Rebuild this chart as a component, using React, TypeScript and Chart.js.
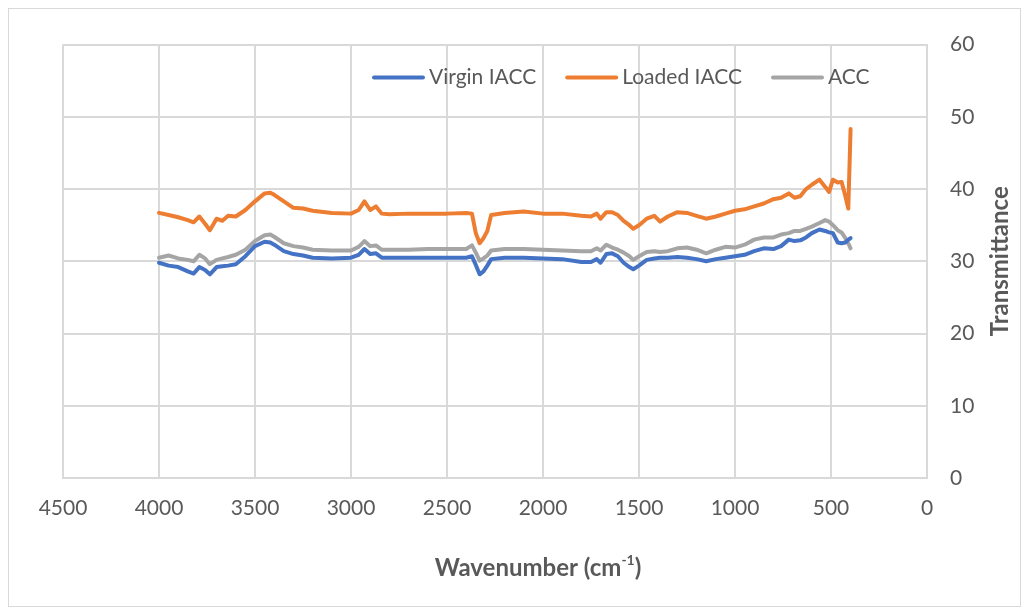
import { useEffect, useRef } from "react";
import { Chart, registerables } from "chart.js";

Chart.register(...registerables);

// FTIR spectra: wavenumber (cm-1) against transmittance
const wavenumbers = [
  4000, 3950, 3900, 3850, 3820, 3790, 3760, 3735, 3700, 3670, 3640, 3600, 3550, 3500,
  3450, 3420, 3400, 3350, 3300, 3250, 3200, 3100, 3000, 2960, 2930, 2900, 2870, 2840,
  2800, 2700, 2600, 2500, 2400, 2370, 2350, 2330, 2310, 2290, 2270, 2200, 2100, 2000,
  1900, 1800, 1750, 1720, 1700, 1670, 1640, 1610, 1580, 1550, 1530, 1500, 1460, 1420,
  1390, 1350, 1300, 1250, 1200, 1150, 1100, 1050, 1000, 950, 900, 850, 800, 760,
  720, 690, 660, 630, 600, 560, 530, 510, 490, 465, 445, 425, 410, 398,
];

const virginIACC = [
  29.8, 29.4, 29.2, 28.6, 28.3, 29.2, 28.8, 28.2, 29.2, 29.3, 29.4, 29.6, 30.7, 32.1,
  32.7, 32.6, 32.3, 31.4, 31.0, 30.8, 30.5, 30.4, 30.5, 30.9, 31.7, 31.0, 31.1, 30.5,
  30.5, 30.5, 30.5, 30.5, 30.5, 30.7, 29.5, 28.2, 28.6, 29.4, 30.3, 30.5, 30.5, 30.4,
  30.3, 29.9, 29.9, 30.3, 29.8, 31.0, 31.1, 30.7, 29.8, 29.2, 28.9, 29.4, 30.2, 30.4,
  30.5, 30.5, 30.6, 30.5, 30.3, 30.0, 30.3, 30.5, 30.7, 30.9, 31.4, 31.8, 31.7, 32.1,
  33.0, 32.8, 32.9, 33.3, 33.9, 34.4, 34.2, 34.0, 33.9, 32.6, 32.5, 32.6, 33.0, 33.2,
];

const loadedIACC = [
  36.7, 36.4, 36.1, 35.7, 35.4, 36.2, 35.2, 34.3, 35.9, 35.6, 36.3, 36.2, 37.1, 38.3,
  39.4, 39.5, 39.2, 38.3, 37.4, 37.3, 37.0, 36.7, 36.6, 37.1, 38.3, 37.1, 37.6, 36.6,
  36.5, 36.6, 36.6, 36.6, 36.7, 36.6, 33.9, 32.5, 33.2, 34.2, 36.4, 36.7, 36.9, 36.6,
  36.6, 36.3, 36.2, 36.6, 35.9, 36.8, 36.8, 36.4, 35.6, 35.0, 34.5, 35.0, 35.9, 36.3,
  35.5, 36.2, 36.8, 36.7, 36.3, 35.9, 36.2, 36.6, 37.0, 37.2, 37.6, 38.0, 38.6, 38.8,
  39.4, 38.8, 39.0, 40.0, 40.6, 41.3, 40.3, 39.6, 41.3, 40.9, 41.0, 39.0, 37.3, 48.3,
];

const acc = [
  30.5, 30.8, 30.4, 30.2, 30.0, 30.9, 30.4, 29.6, 30.2, 30.4, 30.6, 30.9, 31.6, 32.8,
  33.6, 33.7, 33.4, 32.5, 32.1, 31.9, 31.6, 31.5, 31.5, 32.0, 32.8, 32.1, 32.2, 31.6,
  31.6, 31.6, 31.7, 31.7, 31.7, 32.2, 31.2, 30.1, 30.4, 30.8, 31.5, 31.7, 31.7, 31.6,
  31.5, 31.4, 31.4, 31.8, 31.5, 32.3, 31.9, 31.6, 31.2, 30.7, 30.2, 30.7, 31.3, 31.4,
  31.3, 31.4, 31.8, 31.9, 31.6, 31.1, 31.6, 32.0, 31.9, 32.3, 33.0, 33.3, 33.3, 33.7,
  33.9, 34.2, 34.2, 34.5, 34.8, 35.3, 35.7, 35.5, 35.0, 34.3, 34.0, 33.2, 32.5, 31.8,
];

const seriesNames = ["Virgin IACC", "Loaded IACC", "ACC"];
const seriesValues = [virginIACC, loadedIACC, acc];
const seriesColors = ["#4472C4", "#ED7D31", "#A5A5A5"];

const xAxisTitle = "Wavenumber (cm";
const xAxisTitleSup = "-1";
const yAxisTitle = "Transmittance";

const FONT = "Lato, 'Open Sans', sans-serif";
const TEXT = "#595959";
const GRID = "#d9d9d9";

const toPoints = (ys: number[]) => wavenumbers.map((x, i) => ({ x, y: ys[i] }));

// Legend inside the plot and the two axis titles, drawn on the canvas
const decorPlugin = {
  id: "decor",
  afterDraw(chart: any) {
    const ctx: CanvasRenderingContext2D = chart.ctx;
    const area = chart.chartArea;
    ctx.save();

    // legend row
    ctx.font = `21px ${FONT}`;
    ctx.textBaseline = "middle";
    ctx.textAlign = "left";
    let x = area.left + 309;
    const y = area.top + 33;
    chart.data.datasets.forEach((ds: any) => {
      ctx.strokeStyle = ds.borderColor;
      ctx.lineWidth = 4;
      ctx.lineCap = "round";
      ctx.beginPath();
      ctx.moveTo(x + 2, y);
      ctx.lineTo(x + 51, y);
      ctx.stroke();
      ctx.fillStyle = TEXT;
      ctx.fillText(ds.label, x + 57, y);
      x += 57 + ctx.measureText(ds.label).width + 29;
    });

    // x axis title with superscript
    ctx.fillStyle = TEXT;
    ctx.font = `bold 24px ${FONT}`;
    const mainW = ctx.measureText(xAxisTitle).width;
    ctx.font = `bold 14px ${FONT}`;
    const supW = ctx.measureText(xAxisTitleSup).width;
    ctx.font = `bold 24px ${FONT}`;
    const closeW = ctx.measureText(")").width;
    const total = mainW + supW + closeW;
    let tx = 529 - total / 2;
    const ty = 559;
    ctx.textAlign = "left";
    ctx.fillText(xAxisTitle, tx, ty);
    tx += mainW;
    ctx.font = `bold 14px ${FONT}`;
    ctx.fillText(xAxisTitleSup, tx, ty - 8);
    tx += supW;
    ctx.font = `bold 24px ${FONT}`;
    ctx.fillText(")", tx, ty);

    // y axis title, reading upward
    ctx.translate(991, (area.top + area.bottom) / 2);
    ctx.rotate(-Math.PI / 2);
    ctx.textAlign = "center";
    ctx.fillText(yAxisTitle, 0, 0);

    ctx.restore();
  },
};

export default function App() {
  const canvasRef = useRef<HTMLCanvasElement | null>(null);

  useEffect(() => {
    if (!canvasRef.current) return;
    const chart = new Chart(canvasRef.current, {
      type: "line",
      data: {
        datasets: seriesNames.map((name, i) => ({
          label: name,
          data: toPoints(seriesValues[i]),
          borderColor: seriesColors[i],
          backgroundColor: seriesColors[i],
          borderWidth: 4,
          borderCapStyle: "round",
          borderJoinStyle: "round",
          pointRadius: 0,
          fill: false,
          tension: 0,
        })),
      },
      options: {
        animation: false,
        responsive: true,
        maintainAspectRatio: false,
        layout: { padding: { top: 33, left: 54, right: 0, bottom: 0 } },
        plugins: {
          legend: { display: false },
          tooltip: { enabled: false },
        },
        scales: {
          x: {
            type: "linear",
            reverse: true,
            min: 0,
            max: 4500,
            afterFit: (s: any) => {
              s.height = 128;
            },
            ticks: {
              stepSize: 500,
              padding: 18,
              color: TEXT,
              font: { family: FONT, size: 21 },
              maxRotation: 0,
              callback: (v: any) => String(v),
            },
            grid: { color: GRID, lineWidth: 2, drawTicks: false },
            border: { color: GRID, width: 2 },
          },
          y: {
            position: "right",
            min: 0,
            max: 60,
            afterFit: (s: any) => {
              s.width = 93;
            },
            ticks: {
              stepSize: 10,
              padding: 23,
              color: TEXT,
              font: { family: FONT, size: 21 },
              callback: (v: any) => String(v),
            },
            grid: { color: GRID, lineWidth: 2, drawTicks: false },
            border: { color: GRID, width: 2 },
          },
        },
      },
      plugins: [decorPlugin],
    });
    return () => chart.destroy();
  }, []);

  return (
    <div
      style={{
        position: "relative",
        width: 1011,
        height: 597,
        border: "1px solid #d9d9d9",
        background: "#fff",
      }}
    >
      <canvas ref={canvasRef} />
    </div>
  );
}
